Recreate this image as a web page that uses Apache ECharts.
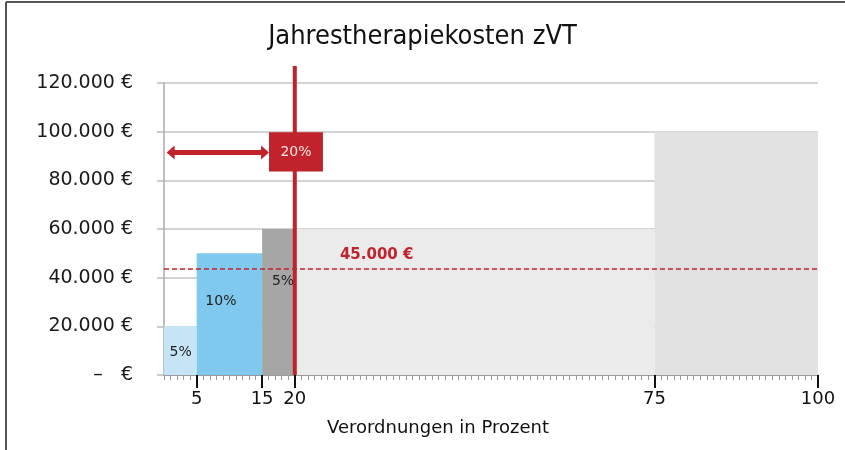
<!DOCTYPE html>
<html>
<head>
<meta charset="utf-8">
<script src="https://cdn.jsdelivr.net/npm/echarts@6/dist/echarts.min.js"></script>
<style>
  html, body { margin: 0; background: #fff; }
  #chart { width: 845px; height: 450px; }
</style>
</head>
<body>
<div id="chart"></div>
<script>
// Segmente: Verordnungsanteil von/bis (%) und Jahrestherapiekosten (€)
const segFrom = [0, 5, 15, 20, 75];
const segTo = [5, 15, 20, 75, 100];
const segCost = [20000, 50000, 60000, 60000, 100000];
const segLabels = ['5%', '10%', '5%', '', ''];
const segLabelX = [2.55, 8.7, 18.2, null, null];
const segLabelY = [9100, 30100, 38500, null, null];
const segColors = ['#c5e5f7', '#80c9ee', '#a6a6a6', '#ebebeb', '#e1e1e1'];

const xTicks = [5, 15, 20, 75, 100];

// Schwelle (gestrichelt) und 20%-Markierung
const threshold = 43600;
const thresholdLabel = '45.000 €';
const thresholdLabelX = 26.9;
const cutoff = 20;
const cutoffLabel = '20%';
const cutoffTop = 127000;
const boxX = [16.06, 24.3];
const boxY = [83600, 99800];
const arrowX = [0.4, 16.06];
const arrowY = 91400;

const RED = '#c1222b';
const FONT = 'DejaVu Sans';

const segData = segFrom.map((f, i) => [f, segTo[i], segCost[i]]);

const chart = echarts.init(document.getElementById('chart'));

chart.setOption({
  animation: false,
  title: {
    text: 'Jahrestherapiekosten zVT',
    left: 'center',
    top: 18,
    textStyle: {
      fontFamily: "'DejaVu Sans Condensed', 'Liberation Sans', sans-serif",
      fontSize: 27,
      fontWeight: 'normal',
      color: '#111'
    }
  },
  grid: { left: 164, right: 27, top: 83, bottom: 75, outerBoundsMode: 'none' },
  xAxis: [
    {
      type: 'value',
      min: 0,
      max: 100,
      interval: 1,
      axisLine: { lineStyle: { color: '#8a8a8a', width: 1.5 } },
      axisTick: { length: 5, lineStyle: { color: '#999' } },
      axisLabel: { show: false },
      splitLine: { show: false }
    },
    {
      type: 'value',
      min: 0,
      max: 100,
      position: 'bottom',
      offset: 0,
      axisLine: { show: false },
      axisTick: { show: true, customValues: xTicks, length: 13, lineStyle: { color: '#111', width: 2 } },
      axisLabel: { customValues: xTicks, margin: 15, fontFamily: FONT, fontSize: 18, color: '#111' },
      splitLine: { show: false }
    }
  ],
  yAxis: {
    type: 'value',
    min: 0,
    max: 120000,
    interval: 20000,
    axisLine: { show: true, lineStyle: { color: '#aaa', width: 1.5 } },
    axisTick: { show: true, length: 7, lineStyle: { color: '#bbb', width: 1.5 } },
    splitLine: { lineStyle: { color: '#c4c4c4', width: 1.5 } },
    axisLabel: {
      margin: 31,
      fontFamily: FONT,
      fontSize: 19,
      color: '#1a1a1a',
      formatter: (v) => (v === 0 ? '–   €' : v / 1000 + '.000 €')
    }
  },
  graphic: [
    { type: 'line', shape: { x1: 6, y1: 2, x2: 845, y2: 2 }, style: { stroke: '#555', lineWidth: 2 } },
    { type: 'line', shape: { x1: 6, y1: 2, x2: 6, y2: 450 }, style: { stroke: '#555', lineWidth: 2 } },
    {
      type: 'text',
      left: 327,
      top: 419,
      style: { text: 'Verordnungen in Prozent', fontFamily: FONT, fontSize: 18, fill: '#111' }
    }
  ],
  series: [
    {
      type: 'custom',
      xAxisIndex: 0,
      data: segData,
      encode: { x: [0, 1], y: 2 },
      z: 2,
      renderItem: (params, api) => {
        const i = params.dataIndex;
        const p0 = api.coord([api.value(0), 0]);
        const p1 = api.coord([api.value(1), api.value(2)]);
        const children = [
          {
            type: 'rect',
            shape: { x: p0[0], y: p1[1], width: p1[0] - p0[0], height: p0[1] - p1[1] },
            style: { fill: segColors[i] }
          }
        ];
        if (segLabels[i]) {
          const lp = api.coord([segLabelX[i], segLabelY[i]]);
          children.push({
            type: 'text',
            x: lp[0],
            y: lp[1],
            style: {
              text: segLabels[i],
              fontFamily: FONT,
              fontSize: 14,
              fill: '#222',
              align: 'center',
              verticalAlign: 'middle'
            }
          });
        }
        return { type: 'group', children };
      },
      markLine: {
        silent: true,
        symbol: ['none', 'none'],
        lineStyle: { color: RED, type: [5, 3], width: 1.5 },
        label: { show: false },
        data: [{ yAxis: threshold }]
      }
    },
    {
      type: 'custom',
      xAxisIndex: 0,
      data: [[cutoff]],
      clip: false,
      z: 5,
      renderItem: (params, api) => {
        const lb = api.coord([cutoff, 0]);
        const lt = api.coord([cutoff, cutoffTop]);
        const b0 = api.coord([boxX[0], boxY[1]]);
        const b1 = api.coord([boxX[1], boxY[0]]);
        const a0 = api.coord([arrowX[0], arrowY]);
        const a1 = api.coord([arrowX[1], arrowY]);
        const tp = api.coord([thresholdLabelX, threshold]);
        const head = 8, half = 7;
        return {
          type: 'group',
          children: [
            { type: 'line', shape: { x1: lb[0], y1: lb[1], x2: lt[0], y2: lt[1] }, style: { stroke: RED, lineWidth: 4 } },
            {
              type: 'rect',
              shape: { x: b0[0], y: b0[1], width: b1[0] - b0[0], height: b1[1] - b0[1] },
              style: { fill: RED }
            },
            {
              type: 'text',
              x: (b0[0] + b1[0]) / 2,
              y: (b0[1] + b1[1]) / 2,
              style: { text: cutoffLabel, fontFamily: FONT, fontSize: 14, fill: '#fbe3e3', align: 'center', verticalAlign: 'middle' }
            },
            {
              type: 'line',
              shape: { x1: a0[0] + head - 1, y1: a0[1], x2: a1[0] - head + 1, y2: a1[1] },
              style: { stroke: RED, lineWidth: 5 }
            },
            {
              type: 'polygon',
              shape: { points: [[a0[0], a0[1]], [a0[0] + head, a0[1] - half], [a0[0] + head, a0[1] + half]] },
              style: { fill: RED }
            },
            {
              type: 'polygon',
              shape: { points: [[a1[0], a1[1]], [a1[0] - head, a1[1] - half], [a1[0] - head, a1[1] + half]] },
              style: { fill: RED }
            },
            {
              type: 'text',
              x: tp[0],
              y: tp[1] - 6,
              style: { text: thresholdLabel, fontFamily: FONT, fontSize: 15, fontWeight: 'bold', fill: RED, align: 'left', verticalAlign: 'bottom' }
            }
          ]
        };
      }
    }
  ]
});
</script>
</body>
</html>
